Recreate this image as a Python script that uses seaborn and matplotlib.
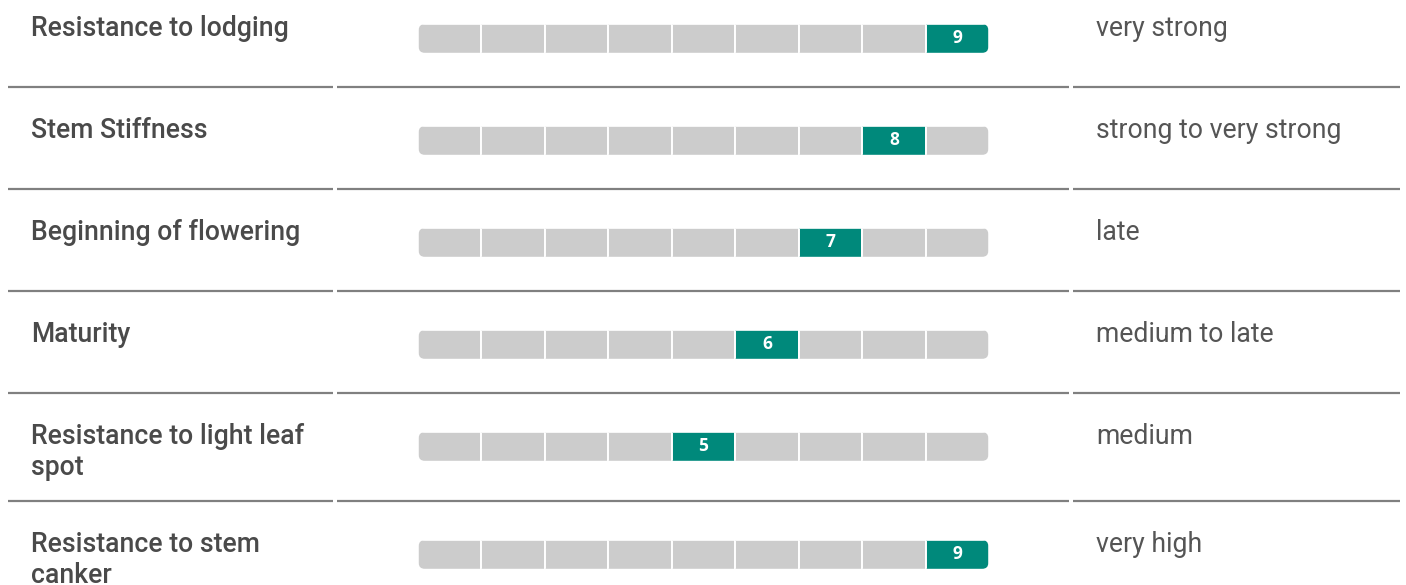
import matplotlib
matplotlib.use("Agg")
import matplotlib.pyplot as plt
import seaborn as sns
from matplotlib.patches import FancyBboxPatch
from matplotlib.transforms import IdentityTransform

# ---- data ----
traits = ["Resistance to lodging", "Stem Stiffness", "Beginning of flowering",
          "Maturity", "Resistance to light leaf\nspot", "Resistance to stem\ncanker"]
scores = [9, 8, 7, 6, 5, 9]
descriptions = ["very strong", "strong to very strong", "late",
                "medium to late", "medium", "very high"]
scale_max = 9

# ---- layout / style ----
W, H = 1406, 585
row_y = [38.5, 140.5, 242.5, 344.5, 446.5, 554.5]
sep_y = [87, 189, 291, 393, 501]
sep_spans = [(8, 333), (337, 1069), (1073, 1400)]
bar_left, bar_right = 418, 989
bar_h = 30
line_step = 31
GRAY = "#cccccc"
TEAL = "#00897b"
LABEL_C = "#4a4a4a"
DESC_C = "#555555"
FS = 19.2

sns.set_theme(style="white")
plt.rcParams['font.family'] = ['Roboto', 'DejaVu Sans']

fig = plt.figure(figsize=(W / 100, H / 100), dpi=100)
fig.patch.set_facecolor("white")
ax = fig.add_axes([0, 0, 1, 1])
ax.set_xlim(0, W)
ax.set_ylim(H, 0)
ax.axis("off")

axb = fig.add_axes([bar_left / W, 0, (bar_right - bar_left) / W, 1])
axb.set_xlim(0, scale_max)
axb.set_ylim(H, 0)
axb.axis("off")
axb.patch.set_alpha(0)

# separators
for y in sep_y:
    for x0, x1 in sep_spans:
        ax.plot([x0, x1], [y, y], color="#808080", lw=1.6, solid_capstyle="butt")

fig.canvas.draw()

for y, label, score, desc in zip(row_y, traits, scores, descriptions):
    lefts = list(range(scale_max))
    colors = [TEAL if i + 1 == score else GRAY for i in lefts]
    bars = axb.barh([y] * scale_max, [1] * scale_max, left=lefts, height=bar_h,
                    color=colors, edgecolor="white", linewidth=1.4)
    # rounded outer corners via clip path in display coordinates
    (xa, ya) = axb.transData.transform((0, y - bar_h / 2))
    (xb, yb) = axb.transData.transform((scale_max, y + bar_h / 2))
    x0, x1 = min(xa, xb), max(xa, xb)
    y0, y1 = min(ya, yb), max(ya, yb)
    clip = FancyBboxPatch((x0 + 0.7, y0 + 0.7), x1 - x0 - 1.4, y1 - y0 - 1.4,
                          boxstyle="round,pad=0,rounding_size=6",
                          transform=IdentityTransform())
    for b in bars:
        b.set_clip_path(clip)
    axb.text(score - 0.5, y - 0.5, str(score), ha="center", va="center",
             color="white", fontsize=12.5, fontweight="bold",
             family=["Open Sans", "DejaVu Sans"])
    for k, line in enumerate(label.split("\n")):
        ax.text(31, y - 2.5 + k * line_step, line, ha="left", va="baseline",
                fontsize=FS, color=LABEL_C, fontweight="medium")
    ax.text(1096, y - 2.5, desc, ha="left", va="baseline", fontsize=FS,
            color=DESC_C)

fig.savefig("out.png", dpi=100, facecolor="white")
